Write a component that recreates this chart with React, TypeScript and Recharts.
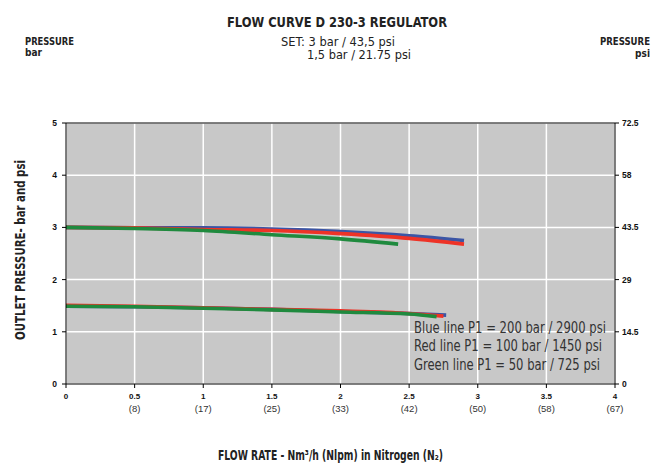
import React from 'react';
import { LineChart, Line, XAxis, YAxis, CartesianGrid, ReferenceLine } from 'recharts';

const flowTicks = [0, 0.5, 1, 1.5, 2, 2.5, 3, 3.5, 4];
const nlpmLabels = ['', '(8)', '(17)', '(25)', '(33)', '(42)', '(50)', '(58)', '(67)'];
const barTicks = [0, 1, 2, 3, 4, 5];
const psiTicks = [0, 14.5, 29, 43.5, 58, 72.5];

const blueHighFlow = [0, 0.5, 1, 1.5, 2, 2.5, 2.9];
const blueHigh = [3.0, 2.99, 2.99, 2.97, 2.92, 2.84, 2.75];
const redHighFlow = [0, 0.5, 1, 1.5, 2, 2.5, 2.9];
const redHigh = [3.0, 2.99, 2.96, 2.94, 2.88, 2.79, 2.68];
const greenHighFlow = [0, 0.5, 1, 1.5, 2, 2.42];
const greenHigh = [3.0, 2.98, 2.94, 2.86, 2.78, 2.68];

const blueLowFlow = [0, 0.5, 1, 1.5, 2, 2.5, 2.77];
const blueLow = [1.49, 1.48, 1.46, 1.43, 1.39, 1.35, 1.32];
const redLowFlow = [0, 0.5, 1, 1.5, 2, 2.5, 2.75];
const redLow = [1.51, 1.49, 1.46, 1.43, 1.4, 1.35, 1.3];
const greenLowFlow = [0, 0.5, 1, 1.5, 2, 2.5, 2.7];
const greenLow = [1.49, 1.48, 1.45, 1.42, 1.38, 1.34, 1.29];

const legendLines = [
  'Blue line P1 = 200 bar / 2900 psi',
  'Red line P1 = 100 bar / 1450 psi',
  'Green line P1 = 50 bar / 725 psi',
];
const legendWidths = [192, 188, 186];
const legendBaselines = [333, 351, 369.5];

const BLUE = '#3b55a5';
const RED = '#ee3327';
const GREEN = '#1f8a3e';

const PSI_PER_BAR = 14.5;

const toPts = (xs: number[], ys: number[]) => xs.map((x, i) => ({ x, y: ys[i] }));

const narrow = '"DejaVu Sans Condensed", "Liberation Sans Narrow", "Arial Narrow", sans-serif';
const arial = '"Liberation Sans", Arial, sans-serif';

const SX = 0.8;

// horizontally condensed text: scaled group plus a target width
const CondText = (props: any) => {
  const { x, y, width, children, ...rest } = props;
  return (
    <g transform={`translate(${x},${y}) scale(${SX},1)`}>
      <text x={0} y={0} textLength={width / SX} lengthAdjust="spacingAndGlyphs" {...rest}>
        {children}
      </text>
    </g>
  );
};

const FlowTick = (props: any) => {
  const { x, y, payload, index } = props;
  return (
    <g>
      <text x={x} y={y + 9} textAnchor="middle" fontFamily={arial} fontWeight="bold" fontSize={8} fill="#111">
        {String(payload.value)}
      </text>
      <text x={x} y={y + 22} textAnchor="middle" fontFamily={arial} fontSize={9.5} fill="#333">
        {nlpmLabels[index]}
      </text>
    </g>
  );
};

const series = [
  { key: 'bh', data: toPts(blueHighFlow, blueHigh), color: BLUE },
  { key: 'rh', data: toPts(redHighFlow, redHigh), color: RED },
  { key: 'gh', data: toPts(greenHighFlow, greenHigh), color: GREEN },
  { key: 'bl', data: toPts(blueLowFlow, blueLow), color: BLUE },
  { key: 'rl', data: toPts(redLowFlow, redLow), color: RED },
  { key: 'gl', data: toPts(greenLowFlow, greenLow), color: GREEN },
];

// the same blue set-point curve expressed in psi, used only to drive the right axis
const bluePsi = blueHighFlow.map((x, i) => ({ x, psi: blueHigh[i] * PSI_PER_BAR }));

export default function App() {
  return (
    <div style={{ position: 'absolute', left: 0, top: 0, width: 662, height: 466, background: '#fff' }}>
      <LineChart width={662} height={466} margin={{ top: 123, right: 12, left: 36, bottom: 42 }}>
        <CartesianGrid fill="#c8c8c8" stroke="#ffffff" strokeWidth={1.5} strokeOpacity={1} />
        <XAxis
          dataKey="x"
          type="number"
          domain={[0, 4]}
          ticks={flowTicks}
          allowDuplicatedCategory={false}
          stroke="#000"
          tickSize={4}
          tick={<FlowTick />}
          height={40}
        />
        <YAxis
          yAxisId={0}
          type="number"
          domain={[0, 5]}
          ticks={barTicks}
          width={30}
          stroke="#000"
          tickSize={4}
          tickMargin={5}
          tick={{ fontFamily: arial, fontWeight: 'bold', fontSize: 8.5, fill: '#111' }}
        />
        <YAxis
          yAxisId="psi"
          orientation="right"
          type="number"
          domain={[0, 72.5]}
          ticks={psiTicks}
          includeHidden
          allowDataOverflow
          width={35}
          stroke="#000"
          tickSize={4}
          tickMargin={3}
          tick={{ fontFamily: arial, fontWeight: 'bold', fontSize: 8.5, fill: '#111' }}
        />
        <ReferenceLine y={5} stroke="#000" strokeWidth={1} />
        <Line
          yAxisId="psi"
          data={bluePsi}
          dataKey="psi"
          hide
          dot={false}
          isAnimationActive={false}
        />
        {series.map((s) => (
          <Line
            key={s.key}
            data={s.data}
            dataKey="y"
            type="monotone"
            stroke={s.color}
            strokeWidth={3.6}
            dot={false}
            activeDot={false}
            isAnimationActive={false}
          />
        ))}
      </LineChart>
      <svg width={662} height={466} style={{ position: 'absolute', left: 0, top: 0, pointerEvents: 'none' }}>
        <CondText x={227} y={26.5} width={220} fontFamily={narrow} fontWeight="bold" fontSize={14} fill="#222">
          FLOW CURVE D 230-3 REGULATOR
        </CondText>
        <CondText x={281} y={45.5} width={114} fontFamily={narrow} fontSize={12.5} fill="#222">
          SET: 3 bar / 43,5 psi
        </CondText>
        <CondText x={307} y={58.5} width={104} fontFamily={narrow} fontSize={12.5} fill="#222">
          1,5 bar / 21.75 psi
        </CondText>
        <CondText x={25} y={45} width={49} fontFamily={narrow} fontWeight="bold" fontSize={10.5} fill="#222">PRESSURE</CondText>
        <text x={25} y={56} fontFamily={narrow} fontWeight="bold" fontSize={10} fill="#222">bar</text>
        <CondText x={600} y={45} width={50} fontFamily={narrow} fontWeight="bold" fontSize={10.5} fill="#222">PRESSURE</CondText>
        <text x={650} y={57} textAnchor="end" fontFamily={narrow} fontWeight="bold" fontSize={10} fill="#222">psi</text>
        <text
          x={-90}
          y={0}
          transform="translate(25,250) rotate(-90)"
          textLength={180}
          lengthAdjust="spacingAndGlyphs"
          fontFamily={narrow}
          fontWeight="bold"
          fontSize={14}
          fill="#222"
        >
          OUTLET PRESSURE- bar and psi
        </text>
        <CondText x={218} y={460} width={225} fontFamily={narrow} fontWeight="bold" fontSize={13.5} fill="#222">
          FLOW RATE - Nm³/h (Nlpm) in Nitrogen (N₂)
        </CondText>
        {legendLines.map((t, i) => (
          <CondText key={i} x={414} y={legendBaselines[i]} width={legendWidths[i]} fontFamily={narrow} fontSize={16} fill="#333">
            {t}
          </CondText>
        ))}
      </svg>
    </div>
  );
}
